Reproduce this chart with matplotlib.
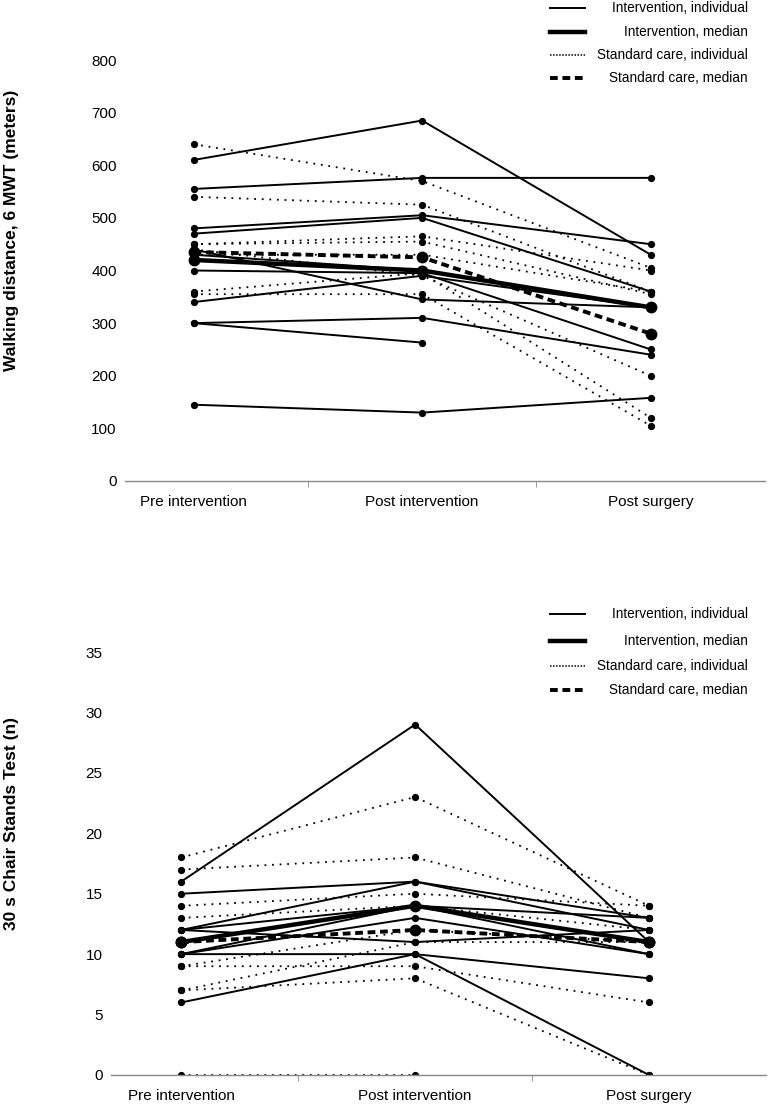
import numpy as np
import matplotlib
matplotlib.use("Agg")
import matplotlib.pyplot as plt
from matplotlib.lines import Line2D

plt.rcParams['font.family'] = ['Liberation Sans', 'DejaVu Sans']

timepoints = ["Pre intervention", "Post intervention", "Post surgery"]
legend_labels = ["Intervention, individual", "Intervention, median",
                 "Standard care, individual", "Standard care, median"]

# 6 minute walk test (meters)
mwt_int = [
    [610, 685, 430],
    [555, 576, 576],
    [480, 505, 450],
    [470, 500, 360],
    [440, 345, 330],
    [430, 400, 330],
    [400, 395, 250],
    [340, 390, 330],
    [300, 310, 240],
    [300, 263, np.nan],
    [145, 130, 158],
]
mwt_int_median = [420, 400, 330]
mwt_sc = [
    [640, 570, 405],
    [540, 525, 360],
    [450, 465, 400],
    [450, 455, 355],
    [430, 430, 360],
    [440, 390, 200],
    [360, 395, 120],
    [355, 355, 105],
]
mwt_sc_median = [435, 425, 280]

# 30 s chair stands test (n)
cst_int = [
    [16, 29, 11],
    [15, 16, 13],
    [12, 16, 12],
    [12, 14, 13],
    [12, 11, 12],
    [11, 14, 11],
    [10, 14, 10],
    [10, 13, 10],
    [6, 10, 8],
    [10, 10, 0],
]
cst_int_median = [11, 14, 11]
cst_sc = [
    [18, 23, 14],
    [17, 18, 13],
    [14, 15, 14],
    [13, 14, 12],
    [9, 12, 11],
    [9, 9, 6],
    [7, 11, 11],
    [7, 8, 0],
    [0, 0, np.nan],
]
cst_sc_median = [11, 12, 11]

dot_style = (0, (1, 3.2))
dash_style = (0, (2, 1.2))


def drawPanel(ax, ind_int, med_int, ind_sc, med_sc, ymax, ystep, ylabel, label_x):
    x = np.arange(len(timepoints))
    for row in ind_sc:
        ax.plot(x, row, color='black', linestyle=dot_style, linewidth=1.3,
                marker='o', markersize=4.2)
    for row in ind_int:
        ax.plot(x, row, color='black', linestyle='-', linewidth=1.4,
                marker='o', markersize=4.2)
    ax.plot(x, med_int, color='black', linestyle='-', linewidth=3.2,
            marker='o', markersize=7.5)
    ax.plot(x, med_sc, color='black', linestyle=dash_style, linewidth=2.8,
            marker='o', markersize=7.5)

    ax.set_xlim(-0.3, 2.5)
    ax.set_ylim(0, ymax)
    ax.set_yticks(np.arange(0, ymax + 1, ystep))
    ax.set_xticks(x)
    ax.set_xticklabels(timepoints)
    ax.set_xticks([0.5, 1.5], minor=True)
    ax.tick_params(axis='x', which='major', length=0, pad=10, labelsize=11)
    ax.tick_params(axis='x', which='minor', length=4, color='#888888')
    ax.tick_params(axis='y', length=0, pad=6, labelsize=11)
    for side in ['top', 'right', 'left']:
        ax.spines[side].set_visible(False)
    ax.spines['bottom'].set_color('#888888')
    ax.spines['bottom'].set_linewidth(1.0)
    ax.set_ylabel(ylabel, fontsize=12.5, fontweight='bold')
    ax.yaxis.set_label_coords(label_x, 0.595)


def drawLegend(fig, ys):
    styles = [dict(linestyle='-', linewidth=1.4),
              dict(linestyle='-', linewidth=3.2),
              dict(linestyle=(0, (1, 1)), linewidth=1.1),
              dict(linestyle=dash_style, linewidth=2.8)]
    for label, st, y in zip(legend_labels, styles, ys):
        yf = 1 - y / 1105
        fig.add_artist(Line2D([550 / 769, 585 / 769], [yf, yf], color='black',
                              transform=fig.transFigure, **st))
        fig.text(748 / 769, yf, label, ha='right', va='center', fontsize=9.8)


def createPlot():
    fig = plt.figure(figsize=(7.69, 11.05), dpi=100)
    ax1 = fig.add_axes([125 / 769, 1 - 481 / 1105, 640 / 769, 421 / 1105])
    ax2 = fig.add_axes([111 / 769, 1 - 1075 / 1105, 655 / 769, 423 / 1105])
    drawPanel(ax1, mwt_int, mwt_int_median, mwt_sc, mwt_sc_median, 800, 100,
              "Walking distance, 6 MWT (meters)", -0.165)
    drawPanel(ax2, cst_int, cst_int_median, cst_sc, cst_sc_median, 35, 5,
              "30 s Chair Stands Test (n)", -0.14)
    drawLegend(fig, [8, 32, 55, 78])
    drawLegend(fig, [614, 641, 666, 690])
    fig.savefig("out.png", dpi=100)


def main():
    createPlot()


if __name__ == "__main__":
    main()
